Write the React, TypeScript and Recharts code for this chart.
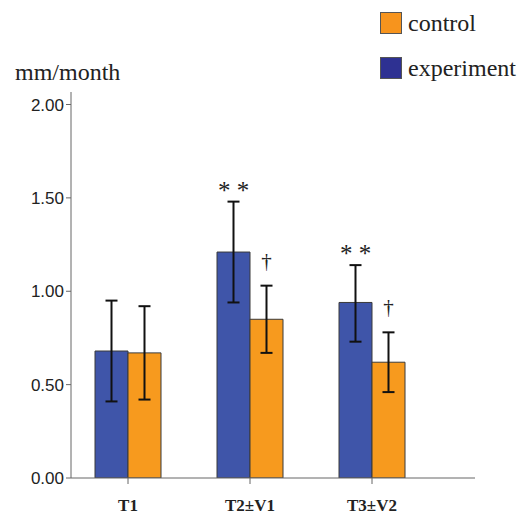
import React from 'react';
import { BarChart, Bar, XAxis, YAxis, ErrorBar, LabelList } from 'recharts';

// groups on the x axis
const categories = ['T1', 'T2\u00B1V1', 'T3\u00B1V2'];

// mean growth, mm/month
const experiment = [0.68, 1.21, 0.94];
const control = [0.67, 0.85, 0.62];

// error bar bounds (low / high)
const experimentLow = [0.41, 0.94, 0.73];
const experimentHigh = [0.95, 1.48, 1.14];
const controlLow = [0.42, 0.67, 0.46];
const controlHigh = [0.92, 1.03, 0.78];

// significance marks above the error bars
const experimentMarks = ['', '* *', '* *'];
const controlMarks = ['', '\u2020', '\u2020'];

const yTicks = [0, 0.5, 1, 1.5, 2];

const BLUE = '#3f55a9';
const ORANGE = '#f79a1e';
const SERIF = 'Liberation Serif, Times New Roman, serif';

const data = categories.map((name, i) => ({
  name,
  experiment: experiment[i],
  control: control[i],
  expErr: [experiment[i] - experimentLow[i], experimentHigh[i] - experiment[i]],
  ctrlErr: [control[i] - controlLow[i], controlHigh[i] - control[i]],
}));

// puts the mark just above the top of the error bar, using the bar's own scale
const markLabel = (marks: string[], highs: number[], values: number[], isDagger: boolean) => (props: any) => {
  const { x, y, width, height, index } = props;
  const mark = marks[index];
  if (!mark) return null;
  const perUnit = height / values[index];
  const bottom = y + height;
  const errTop = bottom - highs[index] * perUnit;
  return (
    <text
      x={x + width / 2}
      y={isDagger ? errTop - 18 : errTop - 3}
      textAnchor="middle"
      fontFamily={SERIF}
      fontSize={isDagger ? 21 : 25}
      fill="#222"
    >
      {mark}
    </text>
  );
};

const XTick = (props: any) => {
  const { x, y, payload } = props;
  return (
    <text x={x} y={y + 25} textAnchor="middle" fontFamily={SERIF} fontWeight="bold" fontSize={17} fill="#222">
      {payload.value}
    </text>
  );
};

const legendItems = [
  { label: 'control', color: '#f7941d' },
  { label: 'experiment', color: '#2e3192' },
];

export default function App() {
  return (
    <div style={{ position: 'absolute', left: 0, top: 0, width: 518, height: 518, background: '#fff' }}>
      <div
        style={{
          position: 'absolute',
          left: 15,
          top: 58,
          fontFamily: SERIF,
          fontSize: 24,
          lineHeight: '28px',
          color: '#222',
        }}
      >
        mm/month
      </div>
      <div style={{ position: 'absolute', left: 380, top: 0, fontFamily: SERIF, fontSize: 24, color: '#222' }}>
        {legendItems.map((it) => (
          <div key={it.label} style={{ display: 'flex', alignItems: 'center', height: 45 }}>
            <div style={{ width: 20, height: 20, background: it.color, border: '1px solid #555', marginRight: 6 }} />
            <span style={{ lineHeight: '24px' }}>{it.label}</span>
          </div>
        ))}
      </div>
      <BarChart
        width={518}
        height={518}
        data={data}
        margin={{ top: 92, right: 43, bottom: 0, left: 0 }}
        barSize={33}
        barGap={0}
      >
        <XAxis
          dataKey="name"
          height={40}
          padding={{ left: -4, right: 42 }}
          tickSize={6}
          tickMargin={2}
          stroke="#666"
          tick={<XTick />}
          interval={0}
        />
        <YAxis
          width={71}
          domain={[0, 2.067]}
          ticks={yTicks}
          tickFormatter={(v: number) => v.toFixed(2)}
          tickSize={5}
          tickMargin={2}
          stroke="#666"
          tick={{ fontFamily: 'Liberation Sans, Arial, sans-serif', fontSize: 17, fill: '#222' }}
          allowDataOverflow
        />
        <Bar dataKey="experiment" fill={BLUE} stroke="#3a3a3a" strokeWidth={1} isAnimationActive={false}>
          <ErrorBar dataKey="expErr" width={6} strokeWidth={2} stroke="#111" direction="y" />
          <LabelList dataKey="experiment" content={markLabel(experimentMarks, experimentHigh, experiment, false)} />
        </Bar>
        <Bar dataKey="control" fill={ORANGE} stroke="#3a3a3a" strokeWidth={1} isAnimationActive={false}>
          <ErrorBar dataKey="ctrlErr" width={6} strokeWidth={2} stroke="#111" direction="y" />
          <LabelList dataKey="control" content={markLabel(controlMarks, controlHigh, control, true)} />
        </Bar>
      </BarChart>
    </div>
  );
}
